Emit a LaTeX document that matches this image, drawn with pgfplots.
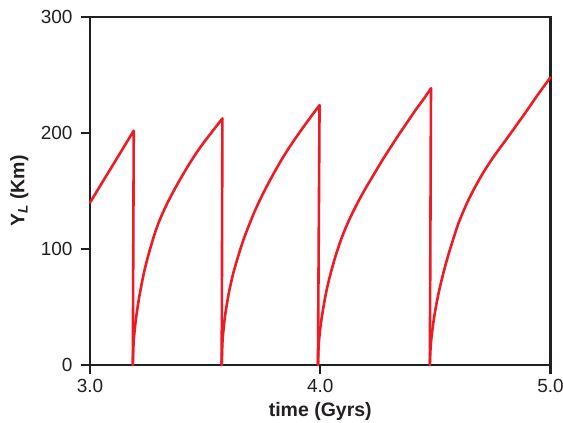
\documentclass[border=0pt]{standalone}
\usepackage{pgfplots}
\pgfplotsset{compat=1.18}
\usepackage{fontspec}
\setmainfont{Liberation Sans}
\definecolor{axisgray}{RGB}{35,31,32}
\definecolor{curvered}{RGB}{237,28,36}
\begin{document}
\begin{tikzpicture}
\path[use as bounding box] (-90pt,-58pt) rectangle (473pt,365pt);
\begin{axis}[
  at={(0,0)}, anchor=south west,
  scale only axis, width=460.5pt, height=348pt,
  xmin=3, xmax=5, ymin=0, ymax=300,
  xtick={3,4,5}, ytick={0,100,200,300},
  xticklabels={3.0,4.0,5.0},
  tick pos=left, tick align=outside,
  major tick length=9pt,
  axis line style={axisgray, line width=2.2pt},
  every tick/.style={axisgray, line width=2.2pt},
  ticklabel style={font=\fontsize{19}{22}\selectfont, text=axisgray},
  yticklabel style={xshift=-5pt},
  xticklabel style={yshift=-2pt},
  /pgf/number format/assume math mode=true,
  xlabel={\bfseries time (Gyrs)},
  ylabel={\bfseries Y\textsubscript{\textit{L}} (Km)},
  label style={font=\fontsize{19.5}{22}\selectfont, text=axisgray},
  xlabel style={at={(axis description cs:0.5,0)}, anchor=north, yshift=-34pt},
  ylabel style={at={(axis description cs:0,0.5)}, anchor=south, yshift=58pt},
  clip=false,
  seg/.style={draw=curvered, mark=none, line width=2.6pt, line join=round, line cap=round},
]
\addplot[seg] coordinates {(3.000,140) (3.190,202) (3.186,0)};
\addplot[seg, smooth, tension=0.5] coordinates {
(3.186,0) (3.189,18) (3.194,30) (3.201,42) (3.216,61) (3.236,81) (3.261,100) (3.291,119) (3.326,135.5) (3.366,151) (3.406,165) (3.446,178) (3.486,189.6) (3.526,200) (3.575,212.5)};
\addplot[seg] coordinates {(3.575,212.5) (3.572,0)};
\addplot[seg, smooth, tension=0.5] coordinates {
(3.572,0) (3.575,19) (3.580,31) (3.587,43) (3.602,61) (3.622,79) (3.647,96) (3.672,111) (3.712,131) (3.752,148) (3.792,163) (3.832,177) (3.872,189.5) (3.912,201) (3.952,212) (3.997,224)};
\addplot[seg] coordinates {(3.997,224) (3.990,0)};
\addplot[seg, smooth, tension=0.5] coordinates {
(3.990,0) (3.993,16.4) (3.998,27.8) (4.005,39) (4.022,59) (4.040,75) (4.065,93) (4.092,109) (4.123,124) (4.160,139) (4.196,152) (4.232,164) (4.268,176) (4.305,187.5) (4.341,198.5) (4.377,209) (4.413,219.5) (4.448,229) (4.481,238.5)};
\addplot[seg] coordinates {(4.481,238.5) (4.476,0)};
\addplot[seg, smooth, tension=0.5] coordinates {
(4.476,0) (4.479,14.5) (4.484,25.4) (4.492,37.6) (4.500,47.6) (4.514,62) (4.535,79.5) (4.558,96) (4.580,110) (4.601,122.5) (4.637,139.5) (4.674,154) (4.710,166.5) (4.746,177.5) (4.782,187.5) (4.819,197.5) (4.855,207.5) (4.891,217.5) (4.945,233) (5.000,248)};
\end{axis}
\end{tikzpicture}
\end{document}
